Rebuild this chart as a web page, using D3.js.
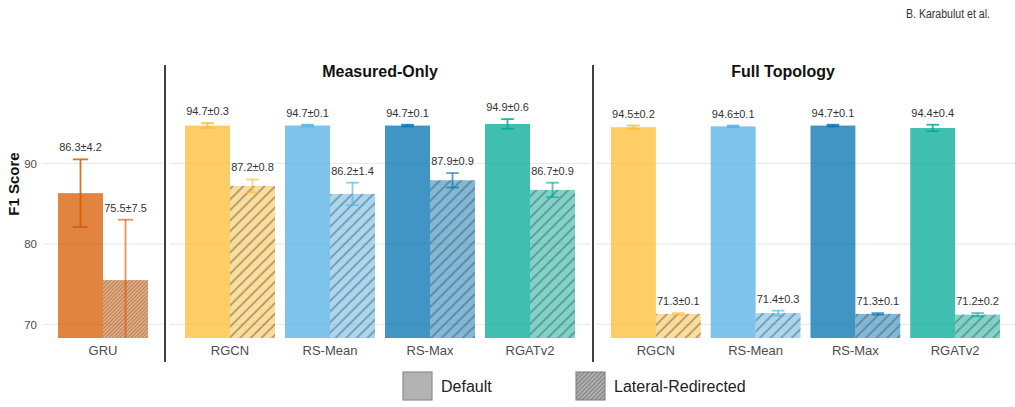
<!DOCTYPE html>
<html>
<head>
<meta charset="utf-8">
<script src="https://cdn.jsdelivr.net/npm/d3@7"></script>
<style>
  body { margin: 0; background: #fff; }
  text { font-family: "Liberation Sans", Arial, sans-serif; }
</style>
</head>
<body>
<svg id="chart" width="1015" height="407"></svg>
<script>
// ---- data ----
const series = ["Default", "Lateral-Redirected"];
const gruModels = ["GRU"];
const gruDefault = [86.3], gruDefaultSd = [4.2];
const gruLateral = [75.5], gruLateralSd = [7.5];

const gnnModels = ["RGCN", "RS-Mean", "RS-Max", "RGATv2"];
const measuredDefault = [94.7, 94.7, 94.7, 94.9];
const measuredDefaultSd = [0.3, 0.1, 0.1, 0.6];
const measuredLateral = [87.2, 86.2, 87.9, 86.7];
const measuredLateralSd = [0.8, 1.4, 0.9, 0.9];

const fullDefault = [94.5, 94.6, 94.7, 94.4];
const fullDefaultSd = [0.2, 0.1, 0.1, 0.4];
const fullLateral = [71.3, 71.4, 71.3, 71.2];
const fullLateralSd = [0.1, 0.3, 0.1, 0.2];

const yTicks = [70, 80, 90];
const gruColor = ["#D55B00"];
const gnnColors = ["#FDBC33", "#53AFE5", "#0072B2", "#00A995"];

// ---- layout ----
const svg = d3.select("#chart");
const plotTop = 99, plotBottom = 338;
const y = d3.scaleLinear().domain([68.3, 98]).range([plotBottom, plotTop]);

function rowsFor(models, colors, dm, ds, lm, ls) {
  return models.map((m, i) => ({
    model: m, color: colors[i],
    vals: [{s: series[0], mean: dm[i], sd: ds[i]}, {s: series[1], mean: lm[i], sd: ls[i]}]
  }));
}

const panels = [
  {title: "", x0: 43, x1: 163, hatch: "hatchFine", cap: 0.34,
   models: gruModels, rows: rowsFor(gruModels, gruColor, gruDefault, gruDefaultSd, gruLateral, gruLateralSd)},
  {title: "Measured-Only", titleX: 380, x0: 170, x1: 590, hatch: "hatchWide", cap: 0.28,
   models: gnnModels, rows: rowsFor(gnnModels, gnnColors, measuredDefault, measuredDefaultSd, measuredLateral, measuredLateralSd)},
  {title: "Full Topology", titleX: 783, x0: 596, x1: 1015, hatch: "hatchWide", cap: 0.28,
   models: gnnModels, rows: rowsFor(gnnModels, gnnColors, fullDefault, fullDefaultSd, fullLateral, fullLateralSd)}
];
const dividers = [165, 593];

// ---- patterns / clip ----
const defs = svg.append("defs");
function hatch(id, size, sw, color, op) {
  const p = defs.append("pattern").attr("id", id)
    .attr("patternUnits", "userSpaceOnUse")
    .attr("width", size).attr("height", size)
    .attr("patternTransform", "rotate(45)");
  p.append("line").attr("x1", size / 2).attr("x2", size / 2)
    .attr("y1", 0).attr("y2", size)
    .attr("stroke", color).attr("stroke-width", sw).attr("stroke-opacity", op);
}
hatch("hatchWide", 7.5, 2, "#4a4a4a", 0.42);
hatch("hatchFine", 2.6, 1, "#5a4a40", 0.45);
hatch("hatchLegend", 3, 1.1, "#5a5a5a", 0.6);

defs.append("clipPath").attr("id", "plotClip")
  .append("rect").attr("x", 0).attr("y", 0).attr("width", 1015).attr("height", plotBottom);

// ---- y axis ----
const yAxis = svg.append("g")
  .attr("transform", "translate(43,0)")
  .call(d3.axisLeft(y).tickValues(yTicks).tickSize(0).tickPadding(6));
yAxis.select(".domain").remove();
yAxis.selectAll("text").attr("font-size", 11.5).attr("fill", "#4d4d4d")
  .attr("font-family", "Liberation Sans, Arial, sans-serif");

svg.append("text")
  .attr("transform", "translate(19,184) rotate(-90)")
  .attr("text-anchor", "middle").attr("font-size", 15).attr("font-weight", "bold")
  .attr("fill", "#111").text("F1 Score");

// ---- panels ----
panels.forEach(p => {
  const g = svg.append("g");
  const x = d3.scaleBand().domain(p.models).range([p.x0, p.x1])
    .paddingInner(0.1).paddingOuter(0.15);
  const xs = d3.scaleBand().domain(series).range([0, x.bandwidth()]);

  // gridlines
  g.selectAll("line.grid").data(yTicks).enter().append("line")
    .attr("x1", p.x0).attr("x2", p.x1)
    .attr("y1", d => y(d)).attr("y2", d => y(d))
    .attr("stroke", "#ebebeb").attr("stroke-width", 1.2);

  const cg = g.append("g").attr("clip-path", "url(#plotClip)");
  p.rows.forEach(r => {
    const bx = x(r.model);
    r.vals.forEach((v, k) => {
      const left = bx + xs(v.s), w = xs.bandwidth(), cx = left + w / 2;
      // base fill
      cg.append("rect")
        .attr("x", left).attr("y", y(v.mean))
        .attr("width", w).attr("height", plotBottom - y(v.mean))
        .attr("fill", r.color).attr("fill-opacity", k === 0 ? 0.75 : 0.5);
      if (k === 1) {
        cg.append("rect")
          .attr("x", left).attr("y", y(v.mean))
          .attr("width", w).attr("height", plotBottom - y(v.mean))
          .attr("fill", "url(#" + p.hatch + ")");
      }
      // error bar
      const cw = w * p.cap;
      const eb = cg.append("g").attr("stroke", r.color)
        .attr("stroke-opacity", k === 0 ? 0.85 : 0.65).attr("stroke-width", 1.8);
      eb.append("line").attr("x1", cx).attr("x2", cx)
        .attr("y1", y(v.mean - v.sd)).attr("y2", y(v.mean + v.sd));
      [v.mean - v.sd, v.mean + v.sd].forEach(e => {
        eb.append("line").attr("x1", cx - cw / 2).attr("x2", cx + cw / 2)
          .attr("y1", y(e)).attr("y2", y(e));
      });
      // value label
      g.append("text")
        .attr("x", cx).attr("y", y(v.mean + v.sd) - 8)
        .attr("text-anchor", "middle").attr("font-size", 11).attr("fill", "#333")
        .text(v.mean.toFixed(1) + "\u00b1" + v.sd.toFixed(1));
    });
    // category label
    g.append("text")
      .attr("x", bx + x.bandwidth() / 2).attr("y", 355)
      .attr("text-anchor", "middle").attr("font-size", 13).attr("fill", "#4d4d4d")
      .text(r.model);
  });

  if (p.title) {
    g.append("text").attr("x", p.titleX).attr("y", 77)
      .attr("text-anchor", "middle").attr("font-size", 16).attr("font-weight", "bold")
      .attr("fill", "#111").text(p.title);
  }
});

// dividers
svg.selectAll("line.divider").data(dividers).enter().append("line")
  .attr("x1", d => d).attr("x2", d => d).attr("y1", 65).attr("y2", 362)
  .attr("stroke", "#000").attr("stroke-width", 1.5);

// ---- legend ----
const legendX = [403, 576];
const legend = svg.append("g");
series.forEach((s, i) => {
  legend.append("rect").attr("x", legendX[i]).attr("y", 372)
    .attr("width", 29).attr("height", 28)
    .attr("fill", "#b3b3b3").attr("stroke", "#8c8c8c").attr("stroke-width", 1.2);
  if (i === 1) {
    legend.append("rect").attr("x", legendX[i]).attr("y", 372)
      .attr("width", 29).attr("height", 28).attr("fill", "url(#hatchLegend)");
  }
  legend.append("text").attr("x", legendX[i] + 38).attr("y", 392)
    .attr("font-size", 16).attr("fill", "#222").text(s);
});

// running header
svg.append("text").attr("x", 906).attr("y", 18)
  .attr("font-size", 12.5).attr("fill", "#333")
  .attr("textLength", 84).attr("lengthAdjust", "spacingAndGlyphs")
  .text("B. Karabulut et al.");
</script>
</body>
</html>
